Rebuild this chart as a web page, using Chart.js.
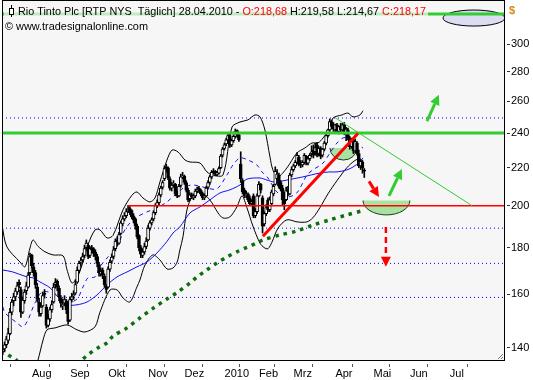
<!DOCTYPE html>
<html><head><meta charset="utf-8">
<script src="https://cdn.jsdelivr.net/npm/chart.js@4.4.1/dist/chart.umd.min.js"></script>
<style>html,body{margin:0;padding:0;background:#fff;}#wrap{width:533px;height:380px;}</style>
</head><body><div id="wrap"><canvas id="c" width="533" height="380"></canvas></div>
<script>
// ---------- data (trading-day index 0 = 3 Aug 2009) ----------
const FIRST_DAY = -15;
const opens = [138.5,139.5,141,142.5,145,153,157.5,159,161,165,
162,153,157.5,161.5,163,169,176.5,171.5,169,163,
157,152.5,155.5,160.5,155,148,150.5,154,157,164,
165.5,162.5,158.5,155.5,156.5,157.5,156,150,158,159.5,
160.5,165,170,173.5,174.5,176.5,180,181,176.5,180,
179.5,178,176,172.5,168.5,170,167.5,163.5,163,170.5,
174,176,179.5,183.5,182,186.5,191,193.5,195,197.5,
198.5,197.5,195,193.5,190,185.5,180,176.5,178,180.5,
183.5,189,191.5,193.5,196.5,200,201.5,205.5,209.5,214,
220.5,220,214,209,211,211,206.5,205,210.5,215,
215.5,212,208,203.5,205.5,204,205,207.5,209,208,
206,204,205,209.5,212,215,218,218,216.5,217,
220,227,231,233.5,236,238.5,233,235.5,238,241.5,
239,222,213,208,205,206,204,201,205,195,
197,205,211,204,191,196,203,198,201,206,
211,214,216,212,209,206,203,208,206,216,
219,221,223,226,222,221.5,223,226.5,222.5,225,
228,230,229,233,228,231,227,230.5,234,238.5,
242,247,244,242,245,241,244,242,245,240,
242,237,232,236,229.5,234,228,221,223,218.68];
const highs = [140.5,142,144,147,154.5,158,160.5,162.5,165,166,
163,159,162,165,169,177.5,177,173,170,164.5,
158.5,156.5,161,162,156,152,155,157.5,164.5,166.5,
166,163.5,159.5,158,159.5,158,157,159,160.5,161.5,
166,171.5,174,175.5,177.5,181,183.5,182,180.5,181,
180,179,177,173.5,171,171,168.5,164,171.5,174.5,
177,180.5,184,185,187,192.5,195,196.5,198.5,200,
199.5,198,196,194,191,186,181,179.5,182,184.5,
190.5,192.5,194,197.5,201,203,206.5,210,213,221,
222,220.5,215,212,213,211.5,207.5,211,216.5,217.5,
216,213,209,206.5,206.5,206,208.5,209.5,210,208.5,
207,206,210,213,216,218.5,219.5,218.5,218,220.5,
227.5,231.5,234,237,240,240,236.5,239,242.5,242,
240,229,214,209,207.5,206.5,205,203,206,198.5,
206,212.5,211.5,205,197,200.5,204,204.5,208,211,
220.5,219,217,213,210.5,207,209.5,210,217,220.5,
222,224,228.5,227,224,224,228,227,226,228,
232.5,233,234,234.5,232,232,231,235,239,242.5,
248.7,248,246.5,245.5,246,244.5,246,246,246.5,243.5,
243,238,237,237,236.5,235,230,224.5,224,219.58];
const lows = [137.5,138.5,140,141.5,144.5,152,155.5,157.5,160,162.5,
151,152.5,156.5,160,162.5,168,171,167.5,162.5,157,
151.5,151.5,155,158.5,147,147.5,149.5,153,156.5,162.5,
161.5,157.5,155,154,155.5,152.5,148.5,149.5,157,158,
160,164.5,169,172,173.5,175.5,179,175,175.5,177.5,
176,174.5,171.5,167.5,167.5,166.5,163,160.5,162.5,169.5,
173,175,178.5,181,181.5,186,190,192.5,194,196.5,
195.5,193.5,191.5,188.5,184,178.5,175.5,175.5,177,179.5,
183,188,190.5,192.5,195.5,199,200.5,204.5,208.5,213,
217.5,213.5,208,207.5,209.5,205,204,204.5,209.5,214,
211,207,202,202.5,203.5,203,204,206.5,207,205,
203,203,204.5,208.5,211,214,216.5,215.5,215.5,216.5,
219.5,226,230,232.5,235,231.5,232,234.5,237,237.5,
235,212,206,204,204,202,200,200,194,194,
196,204.5,206.5,186.7,190,195,197,197,200.5,205,
210.5,213,209,207.5,200,198,202.5,205,205.5,215,
218,220,222,221,220,220.5,222,221.5,221.5,224,
226,225.5,227,226,226.5,225,226,229.5,233,237.5,
241,242.5,241,240.5,240,239.5,240.5,241,239,235.5,
236,230.5,231,228,228.5,227,220,219,217,214.67];
const closes = [139.5,141,143,145,153,157,159,161.5,163.5,164,
153,157.8,161,163.5,168,176,172,169,164,158,
153,155,159.5,160,148,150.5,154,156,163,165,
163,159,156.5,156,158,154,149.5,158,159,160,
164,170,173,174,176,179.5,182,176,179.6,179,
177.5,176,173,169,169.5,168,164,162,170.5,173.5,
175.8,179,183,182.5,186,191.5,193.5,195,197,198,
197,194.5,193,190,185,180,177,178,180.5,183,
189,191.5,193,196.5,200,201.5,205.5,209,212,219.5,
220,214.5,209,210.5,211.5,206,205,210,215,215.5,
212,208,203,205.5,204.5,205,207.5,208.5,208,206,
204,205,209,212,215,217.5,217.8,216.5,217,219.5,
226.5,230.5,233,236,238.5,233,235.5,238,241,239,
236,214,207,205,206,203,201,202,195,197,
205,211,208,190,196,199,198,203,207,210,
218,216.5,210,208.5,203,201,208,207,216,219,
221,223,227,222,221.5,223,227,222.5,225,227,
229,227,231.5,227,231,226.5,230.5,234,238.5,242,
247,244,242.5,245,241,244,242,245,240,242.5,
237,232,236,229.5,235,228,221,223.5,220,218.17];

// indicator lines: [day index, price]
const bbUpper = [[-15.4,190.5],[-12.7,180.3],[-5.5,173.6],[-2.75,171.5],[0,179.8],[1.7,183.5],[4.4,180.6],[8.3,178.1],[12.7,176.7],[18.2,176.3],[20.4,170.2],[23.1,164.7],[25.9,166.8],[29.2,173.6],[31.9,181.2],[35.8,188.2],[38.5,188.2],[42.4,184.4],[45.7,185.6],[51.2,197.9],[56.1,205.3],[58.9,207.0],[62.2,203.9],[66,201.9],[68.8,203.9],[71.5,212.2],[75.4,224.3],[78.2,230.0],[81.5,228.9],[85.3,224.3],[88.1,223.2],[93.6,222.6],[97.4,217.7],[100.7,216.0],[106.2,216.0],[111.2,243.7],[115.6,246.8],[120,248.1],[123.8,251.2],[126.6,250.0],[129.3,241.9],[132.1,226.0],[133.7,218.8],[136.5,215.0],[141.4,219.9],[146.9,228.3],[151.3,231.2],[155.2,234.1],[158.5,234.1],[161.3,237.1],[165.1,243.1],[166.8,249.3],[171.7,251.2],[175,252.4],[177.8,250.0],[181.6,251.2],[183.3,253.9]];
const bbLower = [[-15.4,126],[-5,128],[2,132],[4.4,135.7],[7.2,142.7],[9.4,146.4],[13.8,147.1],[20.4,148.2],[25.9,146.4],[30.3,145.6],[35.8,147.5],[38.5,153],[44,161.8],[48,161.8],[51.2,158.6],[55,157.0],[58.9,163.1],[60.5,165.9],[63.3,172.3],[67.6,176.7],[71.5,174.5],[75.4,170.6],[78.7,171.0],[81,173.6],[82.5,178.9],[84.2,184.9],[86.4,197.9],[89.2,204.4],[93.6,207.0],[99,202.9],[103.5,196.4],[106.2,193.9],[110,194.4],[113.9,199.4],[116.7,205],[119.4,199],[122.7,190],[126.6,182],[128.9,180],[131,179.5],[133.2,182.5],[136.5,189],[141.4,193],[147,192],[152.4,192],[155.7,194],[159.6,199],[164,206],[169,213],[174.4,220],[178.8,224],[181.6,225],[183.3,223.5]];
const avgShort = [[-14.9,155.1],[-13.8,152.8],[-7.2,149.0],[-3.9,147.5],[-1.1,150.1],[1.1,153.9],[2.75,156.6],[6.6,161.0],[12.1,160.6],[16.5,158.6],[20.4,157.0],[23.1,157.0],[26.4,158.6],[29.2,163.1],[31.9,166.8],[35.8,167.2],[38.5,171.5],[42.9,175.8],[47.9,180.3],[51.2,186.7],[55,191.5],[58.9,194.4],[64.4,196.9],[69.9,198.9],[75.4,201.9],[80.9,206.5],[85.3,209.6],[89.7,210.7],[97.4,209.1],[102.9,208.6],[108.4,216.0],[111.7,221.5],[115.6,225.5],[120,224.3],[124.9,221.5],[127.7,217.7],[131,214.4],[135.9,207.0],[141.4,204.4],[146.9,206.5],[152.4,216.0],[155.7,218.8],[161.3,222.6],[165.1,228.3],[169,234.1],[172.3,237.1],[176.1,237.1],[180,233.0],[183.3,231.2]];
const avgMid = [[-15.4,170.2],[-9.4,169.3],[-1.7,167.2],[1.7,166.8],[5.5,165.1],[11,162.7],[15.4,159.0],[20.4,155.9],[25.9,155.9],[31.4,157.0],[36.9,159.8],[42.4,163.9],[47.9,167.2],[53.4,169.3],[58.9,171.5],[64.4,173.6],[69.9,177.6],[75.4,182.8],[78.7,186.7],[82.5,189.6],[88.1,196.4],[93.6,199.4],[99,202.9],[104.6,206.5],[110,208.1],[115.6,210.7],[119.4,213.8],[126.6,214.4],[130.4,213.3],[134.8,212.2],[141.4,213.3],[150.2,215.0],[159.6,217.1],[165.1,217.7],[169,217.7],[174.4,218.8],[177.8,220.4],[181.6,223.2],[183.3,225.5]];
const avgLong = [[-15.4,139.4],[-14.9,139.2],[-12.1,137.5],[-8.3,136.1],[-3,133],[10,131],[20,132],[26,134],[28.6,135.7],[31.9,137.5],[37.4,139.9],[42.4,141.7],[45.7,144.1],[53.4,147.1],[60.5,150.8],[67.7,154.5],[75.4,158.2],[81.5,161.0],[88.1,164.7],[91.9,167.2],[97.4,170.2],[102.9,173.2],[108.4,175.8],[113.9,178.1],[119.4,180.1],[124.9,182.1],[128.2,183.5],[137.6,185.8],[146.9,187.7],[155.7,190.5],[165.1,193.0],[174.4,195.4],[182.7,197.4]];

// axis
const X_MIN = -15.4, X_MAX = 260.9, Y_MIN = 135.7, Y_MAX = 334.5;
const monthTickDays = [0,21,42,64,84,106,125,144,167,188,208,230];
const monthLabels = ['Aug','Sep','Okt','Nov','Dez','2010','Feb','Mrz','Apr','Mai','Jun','Jul'];
const priceTicks = [140,160,180,200,220,240,260,280,300];

// drawn analysis (data coordinates)
const resistanceLevel = 240, supportLevel = 200, supportFrom = 53.9, topLevel = 323.7;
const dottedLevels = [249.3, 189.0, 173.0, 158.8];
const trendRed = [[128.2,185.2],[180.5,239.8]];
const trendGreen = [[167.9,249.5],[243.3,200]];
const bowls = [[165.1,180.0,231.2,224.3],[183.3,209.1,202.6,195.4]];
const topOval = [227.3,261.4,327.0,314.1];
const arrowsSolid = [[186.6,212.6,192.1,204.4,'#ff0000'],[197.6,205.0,204.7,219.3,'#33cc33'],[218.5,247.4,225.1,264.3,'#33cc33']];
const arrowsDashed = [[195.9,189.6,195.9,171.5,'#ff0000']];
const titleParts = [['Rio Tinto Plc [RTP NYS  Täglich] 28.04.2010 - ','#000'],['O:218,68','#ff0000'],[' H:219,58 L:214,67 ','#000'],['C:218,17','#ff0000']];
const subTitle = '© www.tradesignalonline.com';

// ---------- build ----------
const days = closes.map((_, k) => FIRST_DAY + k);
const pts = a => a.map(([x, y]) => ({x, y}));
const hline = (y, x0 = X_MIN, x1 = X_MAX) => [{x: x0, y}, {x: x1, y}];
const FONT = 'Liberation Sans';

const lineDs = (data, color, width, dash, order, tension) => ({
  type: 'line', data, borderColor: color, borderWidth: width, borderDash: dash || [],
  pointRadius: 0, tension: tension || 0, fill: false, order, parsing: true
});

const datasets = [
  ...dottedLevels.map(v => lineDs(hline(v), '#0000ff', 1, [1, 3], 20)),
  lineDs(pts(bbUpper), '#000000', 1, [], 15, 0.3),
  lineDs(pts(bbLower), '#000000', 1, [], 15, 0.3),
  lineDs(pts(avgMid), '#1010f0', 1, [], 14, 0.3),
  lineDs(pts(avgShort), '#1010f0', 1, [4, 4], 14, 0.3),
  lineDs(pts(avgLong), '#0e6e0e', 3.5, [3.5, 5], 13, 0.3),
  {type: 'bar', data: days.map((d, k) => ({x: d, y: [lows[k], highs[k]]})), backgroundColor: '#000', barThickness: 1, grouped: false, order: 12},
  {type: 'bar', data: days.map((d, k) => ({x: d, y: [opens[k], closes[k]]})),
   backgroundColor: closes.map((c, k) => c >= opens[k] ? '#ffffff' : '#000000'),
   borderColor: '#000', borderWidth: 1, borderSkipped: false, barThickness: 3, grouped: false, order: 11},
  lineDs(hline(supportLevel, supportFrom), '#ff0000', 1.5, [], 6),
  lineDs(hline(resistanceLevel), '#33cc33', 3, [], 6),
  lineDs(hline(topLevel), '#33cc33', 3, [], 6),
  lineDs(pts(trendGreen), '#33cc33', 1, [], 5),
  lineDs(pts(trendRed), '#ff0000', 3, [], 4)
];

function arrow(ctx, x1, y1, x2, y2, color, w, dash) {
  const a = Math.atan2(y2 - y1, x2 - x1), hl = 10, hw = 5;
  const bx = x2 - hl * Math.cos(a), by = y2 - hl * Math.sin(a);
  ctx.save();
  ctx.strokeStyle = color; ctx.lineWidth = w; ctx.setLineDash(dash || []);
  ctx.beginPath(); ctx.moveTo(x1, y1); ctx.lineTo(bx, by); ctx.stroke();
  ctx.setLineDash([]); ctx.fillStyle = color;
  ctx.beginPath(); ctx.moveTo(x2, y2);
  ctx.lineTo(bx + hw * Math.sin(a), by - hw * Math.cos(a));
  ctx.lineTo(bx - hw * Math.sin(a), by + hw * Math.cos(a));
  ctx.closePath(); ctx.fill();
  ctx.restore();
}

const overlay = {
  id: 'overlay',
  beforeDraw(chart) {
    const {ctx, chartArea: ca} = chart;
    ctx.save();
    ctx.fillStyle = '#ffffff'; ctx.fillRect(0, 0, chart.width, chart.height);
    ctx.fillStyle = '#f6f6f6'; ctx.fillRect(ca.left, ca.top, ca.right - ca.left, ca.bottom - ca.top);
    ctx.restore();
  },
  beforeDatasetsDraw(chart) {
    const {ctx, chartArea: ca, scales: {x, y}} = chart;
    ctx.save();
    ctx.beginPath(); ctx.rect(ca.left, ca.top, ca.right - ca.left, ca.bottom - ca.top); ctx.clip();
    bowls.forEach(b => {
      const x1 = x.getPixelForValue(b[0]), x2 = x.getPixelForValue(b[1]);
      const yt = y.getPixelForValue(b[2]), yb = y.getPixelForValue(b[3]);
      const cx = (x1 + x2) / 2, rx = (x2 - x1) / 2, ry = yb - yt;
      ctx.beginPath(); ctx.ellipse(cx, yt, rx, ry, 0, 0, Math.PI); ctx.closePath();
      ctx.fillStyle = '#a8e2a0'; ctx.fill();
      ctx.beginPath(); ctx.ellipse(cx, yt, rx, ry, 0, 0, Math.PI);
      ctx.strokeStyle = '#203a20'; ctx.lineWidth = 1; ctx.stroke();
    });
    const ox1 = x.getPixelForValue(topOval[0]), ox2 = x.getPixelForValue(topOval[1]);
    const oy1 = y.getPixelForValue(topOval[2]), oy2 = y.getPixelForValue(topOval[3]);
    ctx.beginPath(); ctx.ellipse((ox1 + ox2) / 2, (oy1 + oy2) / 2, (ox2 - ox1) / 2, (oy2 - oy1) / 2, 0, 0, Math.PI * 2);
    ctx.fillStyle = '#dcdcf2'; ctx.fill(); ctx.strokeStyle = '#000'; ctx.lineWidth = 1; ctx.stroke();
    ctx.restore();
  },
  afterDatasetsDraw(chart) {
    const {ctx, chartArea: ca, scales: {x, y}} = chart;
    ctx.save();
    ctx.beginPath(); ctx.rect(ca.left, ca.top, ca.right - ca.left, ca.bottom - ca.top); ctx.clip();
    arrowsSolid.forEach(a => arrow(ctx, x.getPixelForValue(a[0]), y.getPixelForValue(a[1]), x.getPixelForValue(a[2]), y.getPixelForValue(a[3]), a[4], 3));
    arrowsDashed.forEach(a => arrow(ctx, x.getPixelForValue(a[0]), y.getPixelForValue(a[1]), x.getPixelForValue(a[2]), y.getPixelForValue(a[3]), a[4], 2.5, [6, 4]));
    ctx.restore();
  },
  afterDraw(chart) {
    const {ctx, chartArea: ca} = chart;
    ctx.save();
    // title
    ctx.font = '11px "' + FONT + '"';
    ctx.textBaseline = 'alphabetic';
    let total = 0; titleParts.forEach(p => total += ctx.measureText(p[0]).width);
    ctx.fillStyle = 'rgba(246,246,246,0.72)';
    ctx.fillRect(ca.left + 2, ca.top + 5, 424, 14);
    ctx.save(); ctx.translate(18, 15); ctx.scale(408 / total, 1);
    let px = 0;
    titleParts.forEach(p => { ctx.fillStyle = p[1]; ctx.fillText(p[0], px, 0); px += ctx.measureText(p[0]).width; });
    ctx.restore();
    const sw = ctx.measureText(subTitle).width;
    ctx.save(); ctx.translate(5, 30); ctx.scale(143 / sw, 1); ctx.fillStyle = '#000'; ctx.fillText(subTitle, 0, 0); ctx.restore();
    // candle icon
    ctx.strokeStyle = '#000'; ctx.lineWidth = 1;
    ctx.beginPath(); ctx.moveTo(11.5, 5); ctx.lineTo(11.5, 17); ctx.stroke();
    ctx.fillStyle = '#fff'; ctx.fillRect(9.5, 8.5, 4, 6); ctx.strokeRect(9.5, 8.5, 4, 6);
    // currency
    ctx.fillStyle = '#d48a1c'; ctx.font = 'bold 11px "' + FONT + '"'; ctx.fillText('$', 509, 14);
    // frame
    ctx.strokeStyle = '#000'; ctx.lineWidth = 1;
    ctx.strokeRect(Math.round(ca.left) + 0.5, Math.round(ca.top) - 0.5, Math.round(ca.right - ca.left), Math.round(ca.bottom - ca.top) + 1);
    // resize grip
    ctx.strokeStyle = '#777';
    ctx.beginPath(); ctx.moveTo(ca.right - 6, ca.bottom - 1); ctx.lineTo(ca.right - 1, ca.bottom - 6);
    ctx.moveTo(ca.right - 3, ca.bottom - 1); ctx.lineTo(ca.right - 1, ca.bottom - 3); ctx.stroke();
    ctx.restore();
  }
};

new Chart(document.getElementById('c'), {
  type: 'bar',
  data: {datasets},
  options: {
    responsive: false, animation: false, devicePixelRatio: 1,
    layout: {padding: {left: 2, top: 1, right: 0, bottom: 0}},
    plugins: {legend: {display: false}, tooltip: {enabled: false}},
    scales: {
      x: {
        type: 'linear', min: X_MIN, max: X_MAX, offset: false,
        grid: {display: true, drawOnChartArea: false, drawTicks: true, tickLength: 7, tickColor: '#555', tickBorderDash: [0, 4, 3, 30]},
        border: {display: false},
        afterBuildTicks: s => { s.ticks = monthTickDays.map(v => ({value: v})); },
        ticks: {autoSkip: false, maxRotation: 0, align: 'start', labelOffset: 2, padding: 0, color: '#000',
          font: {family: FONT, size: 11},
          callback: v => { const k = monthTickDays.indexOf(v); return k >= 0 ? monthLabels[k] : ''; }},
        afterFit: s => { s.height = 20; s.paddingLeft = 0; s.paddingRight = 0; }
      },
      y: {
        type: 'logarithmic', position: 'right', min: Y_MIN, max: Y_MAX,
        grid: {display: true, drawOnChartArea: false, drawTicks: true, tickLength: 6, tickColor: '#333', tickBorderDash: [0, 3, 3, 30]},
        border: {display: false},
        afterBuildTicks: s => { s.ticks = priceTicks.map(v => ({value: v})); },
        ticks: {autoSkip: false, padding: 1, color: '#000', font: {family: FONT, size: 11}, callback: v => String(v)},
        afterFit: s => { s.width = 29; s.paddingTop = 0; s.paddingBottom = 0; }
      }
    }
  },
  plugins: [overlay]
});
</script></body></html>
